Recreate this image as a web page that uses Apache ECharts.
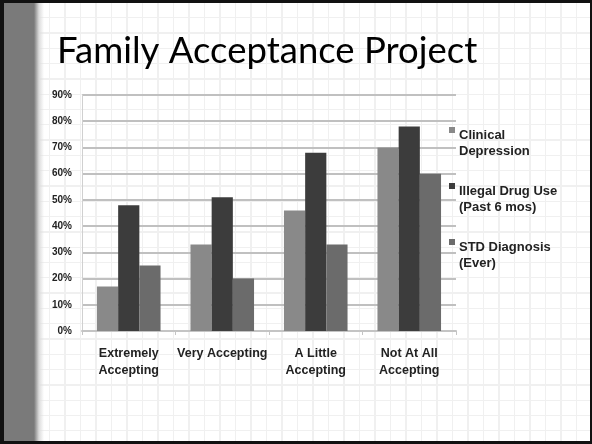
<!DOCTYPE html>
<html>
<head>
<meta charset="utf-8">
<script src="https://cdn.jsdelivr.net/npm/echarts@6/dist/echarts.min.js"></script>
<style>
  html, body { margin: 0; padding: 0; }
  body {
    width: 592px; height: 444px; overflow: hidden;
    background-color: #fff;
  }
  .slide {
    position: absolute; left: 0; top: 0;
    width: 586px; height: 438px;
    border: 3px solid #111;
    border-left-width: 4px; border-right-width: 2px;
    background:
      linear-gradient(to right, #7a7a7a 0px, #7a7a7a 30px, #dcdcdc 35px, rgba(255,255,255,0) 40px),
      repeating-linear-gradient(to right, rgba(0,0,0,0) 0px, rgba(0,0,0,0) 14px, #f0f0f0 14px, #f0f0f0 15.5px),
      repeating-linear-gradient(to bottom, rgba(0,0,0,0) 0px, rgba(0,0,0,0) 14px, #f0f0f0 14px, #f0f0f0 15.3px),
      #fff;
  }
  #chart { position: absolute; left: 0; top: 0; width: 592px; height: 444px; }
</style>
</head>
<body>
<div class="slide"></div>
<div id="chart"></div>
<script>
  var categories = ['Extremely\nAccepting', 'Very Accepting', 'A Little\nAccepting', 'Not At All\nAccepting'];
  var seriesNames = ['Clinical\nDepression', 'Illegal Drug Use\n(Past 6 mos)', 'STD Diagnosis\n(Ever)'];
  var depression = [17, 33, 46, 70];
  var drugUse = [48, 51, 68, 78];
  var stdDiagnosis = [25, 20, 33, 60];
  var colors = ['#898989', '#3c3c3c', '#6b6b6b'];

  var chart = echarts.init(document.getElementById('chart'), null, { renderer: 'canvas' });

  var labelFont = { fontFamily: 'Liberation Sans', fontWeight: 'bold', fontSize: 12.5, color: '#222' };

  // square marker sitting at the top of a tall icon box, so it lines up with the first text line
  var topSquare = 'path://M0,0L6,0L6,6L0,6Z M6,32L6,32';

  var option = {
    backgroundColor: 'transparent',
    animation: false,
    color: colors,
    title: {
      text: 'Family Acceptance Project',
      left: 52,
      top: 28,
      textStyle: { fontFamily: 'Lato', fontWeight: 'normal', fontSize: 36.5, color: '#000' }
    },
    legend: {
      orient: 'vertical',
      left: 444,
      top: 122,
      itemWidth: 6,
      itemHeight: 32,
      itemGap: 24,
      icon: topSquare,
      data: seriesNames,
      textStyle: { fontFamily: 'Liberation Sans', fontWeight: 'bold', fontSize: 13, color: '#222', lineHeight: 16, padding: [0, 0, 0, -1] }
    },
    grid: { left: 82, right: 136, top: 95, bottom: 113 },
    xAxis: {
      type: 'category',
      data: categories,
      axisLine: { show: true, lineStyle: { color: '#c4c4c4', width: 2 } },
      axisTick: { show: true, length: 4, lineStyle: { color: '#c4c4c4' } },
      axisLabel: Object.assign({ margin: 14, lineHeight: 17, interval: 0 }, labelFont)
    },
    yAxis: {
      type: 'value',
      min: 0,
      max: 90,
      interval: 10,
      axisLine: { show: true, lineStyle: { color: '#d0d0d0', width: 1 } },
      axisTick: { show: false },
      splitLine: { lineStyle: { color: '#c0c0c0', width: 2 } },
      axisLabel: Object.assign({ formatter: '{value}%', margin: 10 }, labelFont, { fontSize: 10 })
    },
    series: [
      { name: seriesNames[0], type: 'bar', data: depression, barGap: '0%', barCategoryGap: '32%' },
      { name: seriesNames[1], type: 'bar', data: drugUse, barGap: '0%', barCategoryGap: '32%' },
      { name: seriesNames[2], type: 'bar', data: stdDiagnosis, barGap: '0%', barCategoryGap: '32%' }
    ]
  };
  chart.setOption(option);
</script>
</body>
</html>
